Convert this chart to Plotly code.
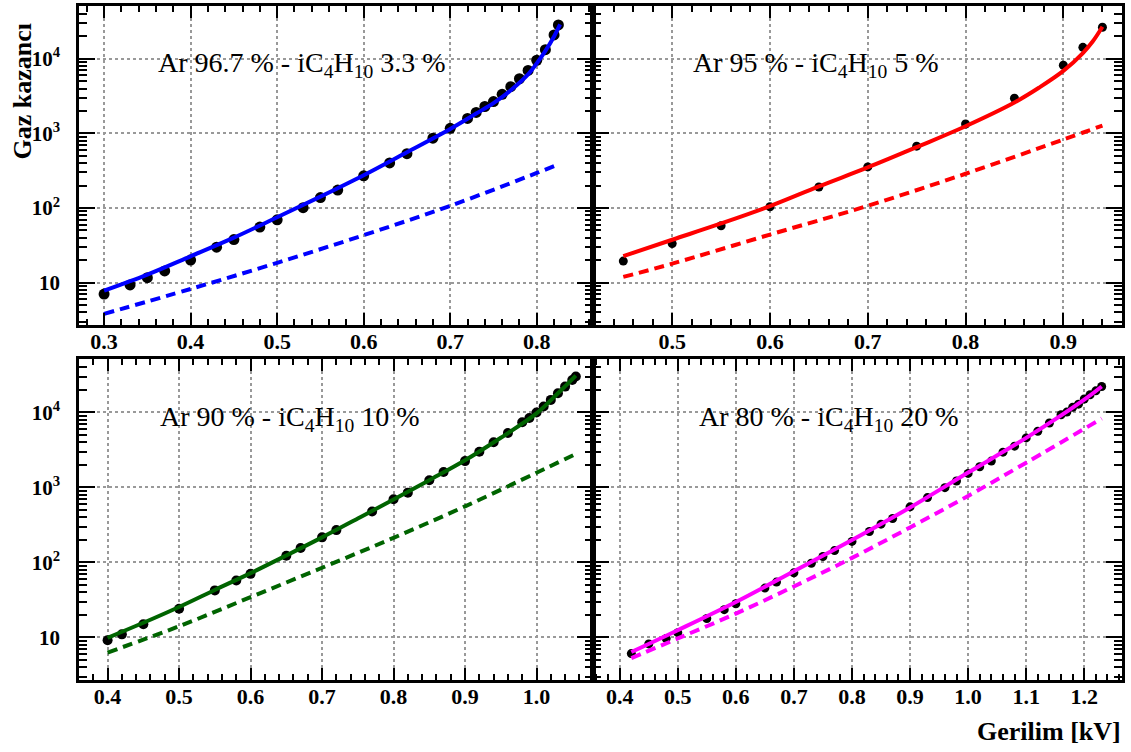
import plotly.graph_objects as go
from plotly.subplots import make_subplots

# ---------------- data ----------------
# Ar 96.7 % - iC4H10 3.3 %
v1 = [0.30, 0.33, 0.35, 0.37, 0.40, 0.43, 0.45, 0.48, 0.50, 0.53, 0.55, 0.57, 0.60, 0.63,
      0.65, 0.68, 0.70, 0.72, 0.73, 0.74, 0.75, 0.76, 0.77, 0.78, 0.79, 0.80, 0.81, 0.82, 0.825]
g1 = [7.0, 9.3, 11.6, 14.3, 20, 29.8, 37.7, 55.5, 69.5, 101, 138, 174, 270, 402,
      535, 863, 1172, 1592, 1914, 2300, 2680, 3350, 4240, 5420, 7000, 9600, 13300, 21000, 28600]
f1_x = [0.30, 0.35, 0.40, 0.45, 0.50, 0.55, 0.60, 0.65, 0.70, 0.73, 0.75, 0.77, 0.79, 0.80,
        0.81, 0.82, 0.827]
f1_y = [7.8, 12.8, 22.5, 40, 75, 142, 275, 560, 1150, 1850, 2550, 3800, 6200, 8700,
        12800, 20000, 29000]
d1_x = [0.30, 0.40, 0.50, 0.60, 0.70, 0.80, 0.825]
d1_y = [3.8, 8.2, 18.4, 43.2, 107, 295, 385]

# Ar 95 % - iC4H10 5 %
v2 = [0.45, 0.50, 0.55, 0.60, 0.65, 0.70, 0.75, 0.80, 0.85, 0.90, 0.92, 0.94]
g2 = [19.4, 33.3, 57.8, 104, 191, 356, 676, 1340, 2970, 8220, 14300, 26600]
f2_x = [0.45, 0.50, 0.55, 0.60, 0.65, 0.70, 0.75, 0.80, 0.85, 0.875, 0.90, 0.92, 0.93, 0.94]
f2_y = [22.6, 37.5, 62, 106, 195, 350, 655, 1250, 2600, 4100, 6900, 12000, 17100, 27000]
d2_x = [0.45, 0.50, 0.60, 0.70, 0.80, 0.90, 0.94]
d2_y = [11.9, 17.9, 44, 107, 288, 828, 1274]

# Ar 90 % - iC4H10 10 %
v3 = [0.40, 0.42, 0.45, 0.50, 0.55, 0.58, 0.60, 0.65, 0.67, 0.70, 0.72, 0.77, 0.80, 0.82,
      0.85, 0.87, 0.90, 0.92, 0.94, 0.96, 0.98, 0.99, 1.00, 1.01, 1.02, 1.03, 1.04, 1.05, 1.055]
g3 = [9.2, 11, 15, 24.2, 42.4, 57.5, 70.5, 123, 156, 216, 270, 478, 696, 853,
      1244, 1604, 2245, 2985, 4010, 5330, 7380, 8420, 10000, 12000, 14700, 18000, 22100, 27100, 30100]
f3_x = [0.40, 0.45, 0.50, 0.55, 0.60, 0.65, 0.70, 0.75, 0.80, 0.85, 0.90, 0.95, 1.00,
        1.03, 1.055]
f3_y = [9.9, 15.7, 25.5, 43, 72, 124, 216, 385, 690, 1250, 2300, 4600, 9700,
        18000, 31000]
d3_x = [0.40, 0.50, 0.60, 0.70, 0.80, 0.90, 1.00, 1.055]
d3_y = [6.3, 14.1, 34.5, 85, 213, 560, 1570, 2800]

# Ar 80 % - iC4H10 20 %
v4 = [0.42, 0.45, 0.48, 0.50, 0.55, 0.58, 0.60, 0.65, 0.67, 0.70, 0.73, 0.75, 0.77, 0.80,
      0.83, 0.85, 0.87, 0.90, 0.93, 0.96, 0.98, 1.00, 1.02, 1.04, 1.06, 1.08, 1.10, 1.12,
      1.14, 1.16, 1.17, 1.18, 1.19, 1.20, 1.21, 1.22, 1.23]
g4 = [6.1, 8.2, 9.7, 11.6, 17.9, 23.5, 28.2, 45.5, 54.7, 72.7, 97.7, 120, 144, 191,
      259, 324, 386, 551, 733, 994, 1218, 1540, 1887, 2244, 2953, 3548, 4575, 5610,
      7230, 9330, 10100, 11700, 12900, 15100, 17200, 19400, 22200]
f4_x = [0.42, 0.50, 0.60, 0.70, 0.80, 0.90, 1.00, 1.10, 1.20, 1.23]
f4_y = [6.4, 12.5, 29.7, 76.6, 199, 540, 1580, 4575, 14800, 22200]
d4_x = [0.42, 0.50, 0.60, 0.70, 0.80, 0.90, 1.00, 1.10, 1.23]
d4_y = [5.3, 9.7, 20.8, 47.9, 115, 293, 771, 2138, 8280]

labels = ["Ar 96.7 % - iC<sub>4</sub>H<sub>10</sub> 3.3 %",
          "Ar 95 % - iC<sub>4</sub>H<sub>10</sub> 5 %",
          "Ar 90 % - iC<sub>4</sub>H<sub>10</sub> 10 %",
          "Ar 80 % - iC<sub>4</sub>H<sub>10</sub> 20 %"]
colors = ["#0000ff", "#ff0000", "#006400", "#ff00ff"]
marker_sizes = [11, 9, 10, 9]
x_ranges = [[0.271, 0.865], [0.419, 0.960], [0.360, 1.079], [0.354, 1.265]]
y_tickvals = [10, 100, 1000, 10000]
y_ticktext = ["10", "10<sup>2</sup>", "10<sup>3</sup>", "10<sup>4</sup>"]
x_title = "Gerilim [kV]"
y_title = "Gaz kazancı"

# ---------------- figure ----------------
fig = make_subplots(rows=2, cols=2, horizontal_spacing=0, vertical_spacing=0.05)

panels = [
    (1, 1, v1, g1, f1_x, f1_y, d1_x, d1_y),
    (1, 2, v2, g2, f2_x, f2_y, d2_x, d2_y),
    (2, 1, v3, g3, f3_x, f3_y, d3_x, d3_y),
    (2, 2, v4, g4, f4_x, f4_y, d4_x, d4_y),
]

SERIF = "Liberation Serif"
minor_log = [m * 10 ** e for e in range(0, 5) for m in range(2, 10)]

for i, (r, c, vx, gy, fx, fy, dx, dy) in enumerate(panels):
    col = colors[i]
    fig.add_trace(go.Scatter(x=vx, y=gy, mode="markers",
                             marker=dict(color="black", size=marker_sizes[i]),
                             showlegend=False, hoverinfo="skip"), row=r, col=c)
    fig.add_trace(go.Scatter(x=dx, y=dy, mode="lines", line_shape="spline",
                             line=dict(color=col, width=4, dash="10px,6px"),
                             showlegend=False, hoverinfo="skip"), row=r, col=c)
    fig.add_trace(go.Scatter(x=fx, y=fy, mode="lines", line_shape="spline",
                             line=dict(color=col, width=4),
                             showlegend=False, hoverinfo="skip"), row=r, col=c)

xdom = [[0, 0.4928], [0.4928, 1.0]]
ydom = [[0.527, 1.0], [0.0, 0.476]]

for i, (r, c, *_rest) in enumerate(panels):
    fig.update_xaxes(
        row=r, col=c, range=x_ranges[i], domain=xdom[c - 1],
        dtick=0.1, tick0=0, tickformat=".1f",
        ticks="inside", ticklen=12, tickwidth=1.5, tickcolor="black",
        minor=dict(dtick=0.02, tick0=0, ticks="inside", ticklen=6, tickwidth=1.5,
                   tickcolor="black", showgrid=False),
        showline=True, linewidth=2.5, linecolor="black", mirror="allticks",
        showgrid=True, gridcolor="#999999", griddash="dot", gridwidth=1.5,
        zeroline=False, ticklabelstandoff=-5,
        tickfont=dict(family=SERIF, size=22, color="black", weight="bold"),
    )
    fig.update_yaxes(
        row=r, col=c, type="log", range=[0.433, 4.71], domain=ydom[r - 1],
        tickmode="array", tickvals=y_tickvals, ticktext=y_ticktext,
        ticks="inside", ticklen=16, tickwidth=1.5, tickcolor="black",
        minor=dict(tickmode="array", tickvals=minor_log, ticks="inside", ticklen=8,
                   tickwidth=1.5, tickcolor="black", showgrid=False),
        showline=True, linewidth=2.5, linecolor="black", mirror="allticks",
        showgrid=True, gridcolor="#999999", griddash="dot", gridwidth=1.5,
        zeroline=False, showticklabels=(c == 1), ticklabelstandoff=12,
        tickfont=dict(family=SERIF, size=21, color="black", weight="bold"),
    )

ann_pos = [(0.2138, 0.913), (0.7066, 0.913), (0.2023, 0.3885), (0.719, 0.3885)]
for i, (ax, ay) in enumerate(ann_pos):
    fig.add_annotation(x=ax, y=ay, xref="paper", yref="paper", text=labels[i],
                       showarrow=False, xanchor="center", yanchor="middle",
                       font=dict(family=SERIF, size=28, color="black"))

fig.add_annotation(x=-0.0537, y=0.8745, xref="paper", yref="paper", text=y_title,
                   textangle=-90, showarrow=False, xanchor="center", yanchor="middle",
                   font=dict(family=SERIF, size=26, color="black", weight="bold"))
fig.add_annotation(x=1.0009, y=-0.0768, xref="paper", yref="paper", text=x_title,
                   showarrow=False, xanchor="right", yanchor="middle",
                   font=dict(family=SERIF, size=26, color="black", weight="bold"))

fig.update_layout(
    width=1131, height=752,
    margin=dict(l=79, r=9, t=3, b=72),
    paper_bgcolor="white", plot_bgcolor="white",
    showlegend=False,
)

fig.write_html("out.html", config={"displayModeBar": False},
               post_script="document.body.style.margin='0';document.body.style.overflow='hidden';")
